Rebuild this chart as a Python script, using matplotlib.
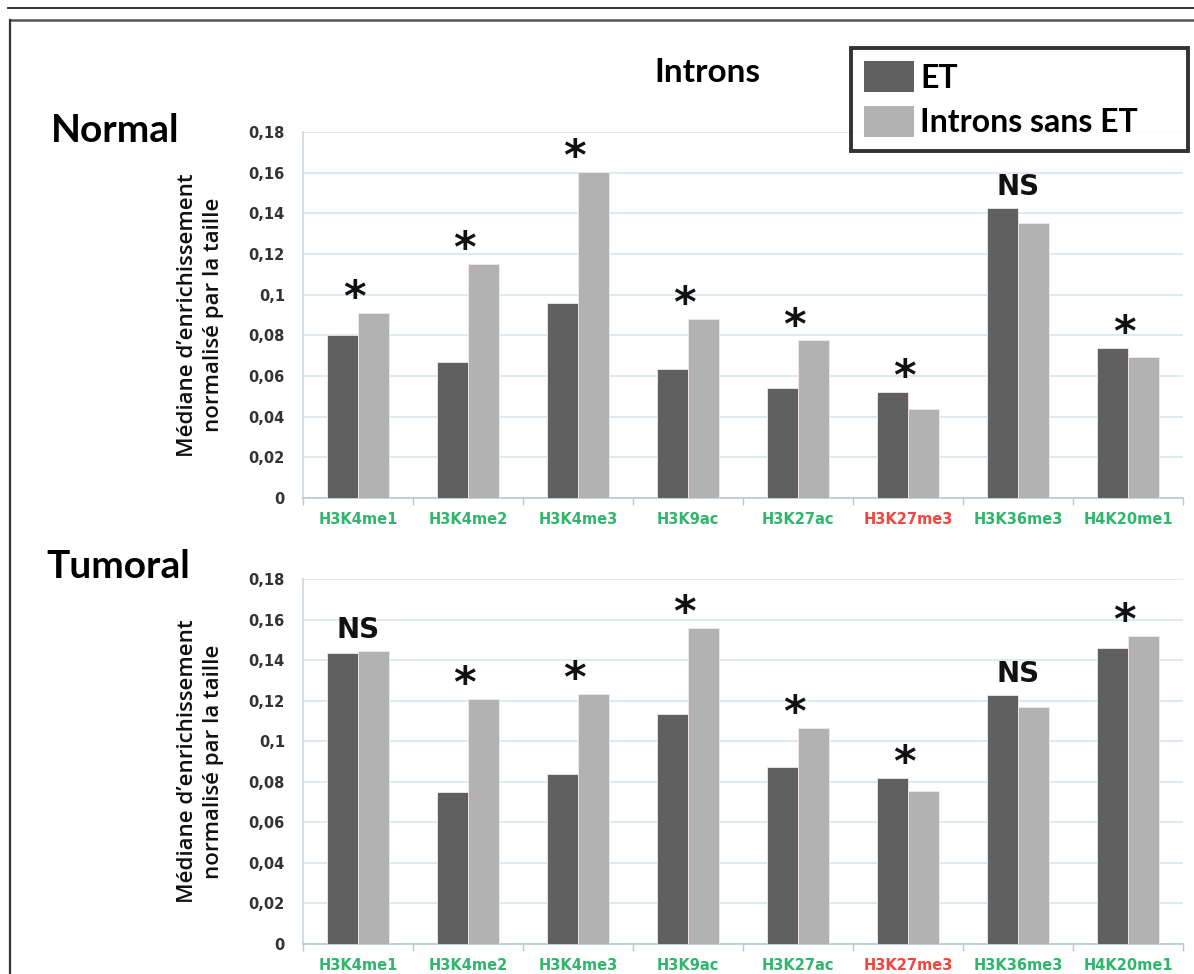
import numpy as np
import matplotlib.pyplot as plt
from matplotlib.lines import Line2D

marks = ["H3K4me1", "H3K4me2", "H3K4me3", "H3K9ac", "H3K27ac", "H3K27me3", "H3K36me3", "H4K20me1"]
mark_colors = ["#2fb56c", "#2fb56c", "#2fb56c", "#2fb56c", "#2fb56c", "#f2453d", "#2fb56c", "#2fb56c"]

normal_et = [0.080, 0.067, 0.096, 0.0635, 0.054, 0.052, 0.1425, 0.074]
normal_intron = [0.091, 0.115, 0.1605, 0.088, 0.0775, 0.044, 0.135, 0.0695]
normal_sig = ["*", "*", "*", "*", "*", "*", "NS", "*"]

tumoral_et = [0.1435, 0.075, 0.084, 0.1135, 0.0875, 0.082, 0.1228, 0.146]
tumoral_intron = [0.1445, 0.121, 0.1235, 0.156, 0.1065, 0.0755, 0.117, 0.152]
tumoral_sig = ["NS", "*", "*", "*", "*", "*", "NS", "*"]

yticks = [0, 0.02, 0.04, 0.06, 0.08, 0.1, 0.12, 0.14, 0.16, 0.18]
ytick_labels = ["0", "0,02", "0,04", "0,06", "0,08", "0,1", "0,12", "0,14", "0,16", "0,18"]

dark = "#606060"
light = "#b2b2b2"
W, H = 1194, 974


def draw_panel(ax, et, intron, sig):
    x = np.arange(len(marks))
    w = 0.275
    ax.bar(x - 0.14, et, w, color=dark, edgecolor="#f4e8e4", linewidth=0.6, zorder=3)
    ax.bar(x + 0.14, intron, w, color=light, edgecolor="#f4e8e4", linewidth=0.6, zorder=3)
    for i, s in enumerate(sig):
        top = max(et[i], intron[i])
        if s == "*":
            ax.text(x[i] - 0.03, top + 0.0068, "*", ha="center", va="center",
                    fontsize=31, fontweight="bold", color="#111111", zorder=4,
                    family="DejaVu Sans")
        else:
            ax.text(x[i], top + 0.0105, s, ha="center", va="center",
                    fontsize=20, fontweight="bold", color="#111111", zorder=4,
                    family="DejaVu Sans")
    ax.set_xlim(-0.5, len(marks) - 0.5)
    ax.set_ylim(0, 0.18)
    ax.set_yticks(yticks)
    ax.set_yticklabels(ytick_labels, fontsize=10.5, fontweight="bold", color="#333333")
    ax.tick_params(axis="y", length=0, pad=13)
    ax.set_xticks(x)
    ax.set_xticklabels(marks, fontsize=10.5, fontweight="bold")
    for lbl, c in zip(ax.get_xticklabels(), mark_colors):
        lbl.set_color(c)
    ax.tick_params(axis="x", length=0, pad=10)
    ax.set_xticks(np.arange(len(marks) + 1) - 0.5, minor=True)
    ax.tick_params(axis="x", which="minor", length=5, color="#b8c8d4", width=1)
    ax.grid(axis="y", color="#d6e3ec", linewidth=1.1, zorder=0)
    for side in ["top", "right"]:
        ax.spines[side].set_visible(False)
    ax.spines["left"].set_color("#c8d8e4")
    ax.spines["bottom"].set_color("#b8c8d4")
    ax.spines["left"].set_linewidth(1.2)
    ax.spines["bottom"].set_linewidth(1.2)
    ax.set_ylabel("Médiane d\u2019enrichissement\nnormalisé par la taille",
                  fontsize=16, family="Open Sans", fontweight=600, labelpad=18,
                  linespacing=1.3, color="#111111")


fig = plt.figure(figsize=(W / 100, H / 100), dpi=100)
ax1 = fig.add_axes([303 / W, 1 - 498 / H, 880 / W, 366 / H])
ax2 = fig.add_axes([303 / W, 1 - 944 / H, 880 / W, 365 / H])
draw_panel(ax1, normal_et, normal_intron, normal_sig)
draw_panel(ax2, tumoral_et, tumoral_intron, tumoral_sig)

fig.text(115 / W, 1 - 130 / H, "Normal", fontsize=28, fontweight="bold", family="Lato",
         ha="center", va="center")
fig.text(118 / W, 1 - 567 / H, "Tumoral", fontsize=28, fontweight="bold", family="Lato",
         ha="center", va="center")
fig.text(707 / W, 1 - 72 / H, "Introns", fontsize=24, fontweight="bold", family="Lato",
         ha="center", va="center")

# frame lines
fig.add_artist(Line2D([8 / W, 1], [1 - 8 / H, 1 - 8 / H], color="#222222", linewidth=1.3))
fig.add_artist(Line2D([10 / W, 1], [1 - 20 / H, 1 - 20 / H], color="#555555", linewidth=1.8))
fig.add_artist(Line2D([10 / W, 10 / W], [1 - 20 / H, 0], color="#333333", linewidth=1.6))

handles = ax1.containers
leg = fig.legend(handles, ["ET", "Introns sans ET"], loc="upper left",
                 bbox_to_anchor=(851 / W, 1 - 155 / H, 337 / W, 107 / H), mode="expand",
                 fancybox=False,
                 prop={"family": "Lato", "size": 23, "weight": "bold"}, handlelength=1.55,
                 handleheight=1.1, handletextpad=0.2, labelspacing=0.42,
                 borderpad=0.42, borderaxespad=0)
leg.get_frame().set_edgecolor("black")
leg.get_frame().set_linewidth(2.8)
for p in leg.get_patches():
    p.set_edgecolor("none")

fig.savefig("out.png", dpi=100)
